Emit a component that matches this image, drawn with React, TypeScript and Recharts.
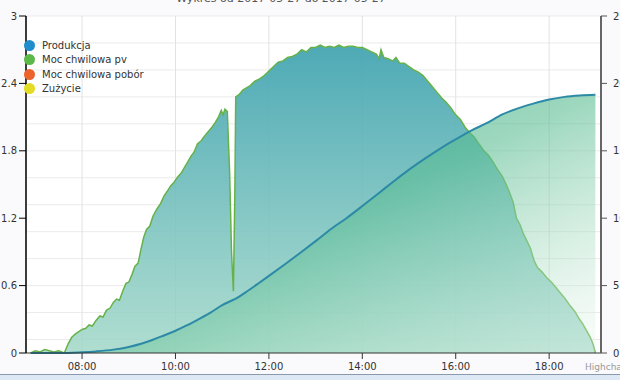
import { ComposedChart, Area, XAxis, YAxis, CartesianGrid } from "recharts";

// Moc chwilowa pv [kW] – hours of day / values
const pvTimes = [
  6.9, 7.0, 7.1, 7.2, 7.3, 7.4, 7.5, 7.62, 7.7, 7.78, 7.86, 7.93, 8.0, 8.08, 8.15, 8.22, 8.3, 8.38,
  8.45, 8.52, 8.6, 8.67, 8.74, 8.8, 8.87, 8.94, 9.0, 9.07, 9.13, 9.2, 9.26, 9.32, 9.38, 9.45, 9.52,
  9.6, 9.68, 9.76, 9.84, 9.9, 9.97, 10.05, 10.12, 10.19, 10.26, 10.33, 10.4, 10.47, 10.55, 10.62,
  10.7, 10.78, 10.85, 10.92, 10.98, 11.02, 11.06, 11.11, 11.16, 11.2, 11.24, 11.27, 11.29, 11.36,
  11.44, 11.52, 11.6, 11.7, 11.8, 11.9, 12.0, 12.1, 12.2, 12.3, 12.4, 12.5, 12.6, 12.7, 12.8, 12.9,
  13.0, 13.1, 13.2, 13.3, 13.4, 13.5, 13.6, 13.7, 13.8, 13.9, 14.0, 14.1, 14.2, 14.3, 14.36, 14.4,
  14.46, 14.55, 14.65, 14.72, 14.8, 14.9, 15.0, 15.1, 15.2, 15.3, 15.4, 15.5, 15.6, 15.7, 15.8,
  15.9, 16.0, 16.1, 16.2, 16.3, 16.4, 16.5, 16.6, 16.7, 16.8, 16.9, 17.0, 17.08, 17.16, 17.23,
  17.3, 17.38, 17.45, 17.52, 17.6, 17.68, 17.75, 17.85, 17.95, 18.05, 18.15, 18.25, 18.35, 18.45,
  18.55, 18.65, 18.72, 18.8, 18.88, 18.94, 18.99,
];
const pvValues = [
  0, 0.02, 0.01, 0.03, 0.02, 0.01, 0.02, 0, 0.08, 0.14, 0.17, 0.19, 0.21, 0.22, 0.25, 0.24, 0.29,
  0.33, 0.32, 0.38, 0.4, 0.45, 0.48, 0.47, 0.55, 0.62, 0.63, 0.7, 0.77, 0.8, 0.92, 1.03, 1.1, 1.13,
  1.22, 1.28, 1.33, 1.4, 1.45, 1.49, 1.52, 1.57, 1.6, 1.65, 1.7, 1.75, 1.79, 1.86, 1.89, 1.93,
  1.97, 2.01, 2.05, 2.1, 2.16, 2.12, 2.17, 2.15, 1.6, 0.9, 0.55, 1.4, 2.28, 2.3, 2.34, 2.36, 2.38,
  2.42, 2.44, 2.47, 2.51, 2.55, 2.59, 2.6, 2.63, 2.64, 2.66, 2.7, 2.68, 2.72, 2.72, 2.74, 2.72,
  2.73, 2.72, 2.74, 2.72, 2.73, 2.73, 2.72, 2.72, 2.7, 2.68, 2.66, 2.62, 2.7, 2.63, 2.62, 2.6,
  2.63, 2.58, 2.58, 2.55, 2.52, 2.5, 2.47, 2.42, 2.37, 2.32, 2.27, 2.23, 2.18, 2.12, 2.08, 2.01,
  1.96, 1.92, 1.86, 1.8, 1.76, 1.7, 1.63, 1.57, 1.5, 1.42, 1.34, 1.2, 1.14, 1.06, 1.0, 0.93, 0.82,
  0.76, 0.72, 0.67, 0.63, 0.58, 0.53, 0.48, 0.42, 0.37, 0.3, 0.26, 0.2, 0.14, 0.08, 0,
];

// Produkcja [kWh] – cumulative, right axis
const prodTimes = [
  6.9, 7.7, 8.0, 8.3, 8.67, 9.0, 9.3, 9.53, 9.75, 10.0, 10.25, 10.5, 10.75, 11.0, 11.24, 11.3, 11.5,
  11.75, 12.0, 12.33, 12.66, 13.0, 13.33, 13.66, 14.0, 14.33, 14.66, 15.0, 15.33, 15.66, 16.0,
  16.33, 16.66, 17.0, 17.33, 17.66, 18.0, 18.33, 18.66, 18.99,
];
const prodValues = [
  0, 0, 0.05, 0.12, 0.25, 0.45, 0.72, 1.0, 1.3, 1.65, 2.06, 2.52, 3.0, 3.55, 3.95, 4.05, 4.5, 5.1,
  5.72, 6.55, 7.4, 8.3, 9.2, 10.0, 10.9, 11.8, 12.7, 13.6, 14.4, 15.15, 15.85, 16.5, 17.05, 17.7,
  18.15, 18.5, 18.8, 19.0, 19.1, 19.15,
];

const leftTicks = [0, 0.6, 1.2, 1.8, 2.4, 3];
const rightTicks = [0, 5, 10, 15, 20, 25];
const hourTicks = [8, 10, 12, 14, 16, 18];
const minorTicks = Array.from({ length: 26 }, (_, i) => +(i * 0.12).toFixed(2));

const legendItems = [
  { name: "Produkcja", color: "#1f8dcc" },
  { name: "Moc chwilowa pv", color: "#5db84a" },
  { name: "Moc chwilowa pobór", color: "#ea642c" },
  { name: "Zużycie", color: "#e2dc22" },
];

const times = Array.from(new Set([...pvTimes, ...prodTimes])).sort((a, b) => a - b);
const data = times.map((t) => {
  const i = pvTimes.indexOf(t);
  const j = prodTimes.indexOf(t);
  return { t, pv: i >= 0 ? pvValues[i] : null, prod: j >= 0 ? prodValues[j] : null };
});

const font = "'DejaVu Sans', Verdana, sans-serif";
const hourLabel = (h: number) => `${String(h).padStart(2, "0")}:00`;

export default function App() {
  return (
    <div
      style={{
        position: "absolute",
        left: 0,
        top: 0,
        width: 620,
        height: 380,
        overflow: "hidden",
        background: "#fafafd",
        fontFamily: font,
      }}
    >
      <ComposedChart
        width={620}
        height={380}
        data={data}
        margin={{ top: 16, right: 0, bottom: 0, left: 0 }}
      >
        <defs>
          <linearGradient id="pvFill" x1="0" y1="0" x2="0" y2="1">
            <stop offset="0%" stopColor="#44a5b2" stopOpacity={0.95} />
            <stop offset="100%" stopColor="#a2d8c8" stopOpacity={0.85} />
          </linearGradient>
          <linearGradient id="prodFill" x1="0" y1="0" x2="1" y2="1">
            <stop offset="0%" stopColor="#2ea27a" stopOpacity={0.75} />
            <stop offset="50%" stopColor="#5bbd93" stopOpacity={0.6} />
            <stop offset="100%" stopColor="#eef8ee" stopOpacity={0.3} />
          </linearGradient>
        </defs>
        <CartesianGrid
          yAxisId="left"
          vertical={false}
          horizontalValues={minorTicks}
          stroke="#ebebeb"
          fill="#ffffff"
        />
        <CartesianGrid yAxisId="left" horizontal={false} stroke="#e2e2e2" />
        <XAxis
          dataKey="t"
          type="number"
          domain={[6.8, 19.11]}
          allowDataOverflow
          ticks={hourTicks}
          tickFormatter={hourLabel}
          height={27}
          tickSize={6}
          tickMargin={4}
          tick={{ fontSize: 10, fill: "#333", fontFamily: font }}
          axisLine={{ stroke: "#333" }}
          tickLine={{ stroke: "#333" }}
        />
        <YAxis
          yAxisId="left"
          domain={[0, 3]}
          ticks={leftTicks}
          width={26}
          tickSize={7}
          tickMargin={2}
          tick={{ fontSize: 10, fill: "#333", fontFamily: font }}
          axisLine={{ stroke: "#000", strokeWidth: 1.5 }}
          tickLine={{ stroke: "#000" }}
        />
        <YAxis
          yAxisId="right"
          orientation="right"
          domain={[0, 25]}
          ticks={rightTicks}
          width={19}
          tickSize={6}
          tickMargin={6}
          tick={{ fontSize: 10, fill: "#333", fontFamily: font }}
          axisLine={{ stroke: "#666", strokeWidth: 2 }}
          tickLine={{ stroke: "#555" }}
        />
        <Area
          yAxisId="left"
          type="linear"
          dataKey="pv"
          stroke="#66b24a"
          strokeWidth={1.5}
          fill="url(#pvFill)"
          fillOpacity={1}
          connectNulls
          dot={false}
          activeDot={false}
          isAnimationActive={false}
        />
        <Area
          yAxisId="right"
          type="monotone"
          dataKey="prod"
          stroke="#2c8aa6"
          strokeWidth={2}
          fill="url(#prodFill)"
          fillOpacity={1}
          connectNulls
          dot={false}
          activeDot={false}
          isAnimationActive={false}
        />
      </ComposedChart>

      {/* title, cut off at the top of the screenshot */}
      <div
        style={{
          position: "absolute",
          left: 0,
          top: -8,
          width: 562,
          textAlign: "center",
          fontSize: 11,
          lineHeight: "13px",
          color: "#555",
        }}
      >
        Wykres od 2017-05-27 do 2017-05-27
      </div>

      <div style={{ position: "absolute", left: 24, top: 38 }}>
        {legendItems.map((item) => (
          <div
            key={item.name}
            style={{ display: "flex", alignItems: "center", height: 14.5, fontSize: 10, color: "#333" }}
          >
            <span
              style={{
                width: 11,
                height: 11,
                borderRadius: "50%",
                background: item.color,
                marginRight: 7,
                flexShrink: 0,
              }}
            />
            <span>{item.name}</span>
          </div>
        ))}
      </div>

      <div style={{ position: "absolute", left: 585, top: 362, fontSize: 9, color: "#999", whiteSpace: "nowrap" }}>
        Highcharts.com
      </div>

      <div
        style={{
          position: "absolute",
          left: 0,
          top: 374,
          width: 620,
          height: 6,
          borderTop: "1px solid #8a9aae",
          background: "#dfe9f5",
        }}
      />
    </div>
  );
}
